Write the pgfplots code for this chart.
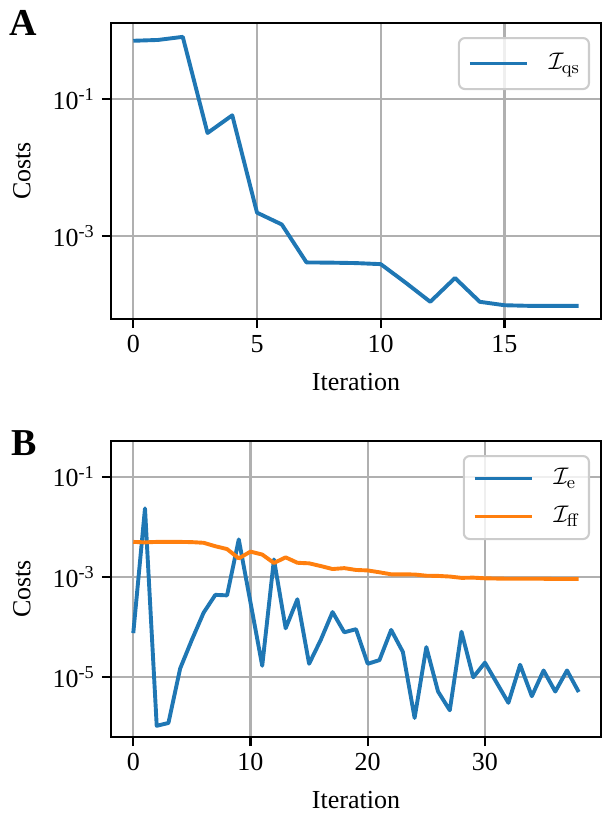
\documentclass[border=0pt]{standalone}
\usepackage[no-math]{fontspec}
\setmainfont{Liberation Serif}
\usepackage{pgfplots}
\pgfplotsset{compat=1.18}
\definecolor{mplblue}{HTML}{1F77B4}
\definecolor{mplorange}{HTML}{FF7F0E}
\definecolor{mplgrid}{HTML}{B0B0B0}
\definecolor{mpllegend}{HTML}{CCCCCC}

\pgfplotsset{
  costs/.style={
    scale only axis, width=245pt, height=148pt,
    anchor=south west,
    yminorticks=false,
    axis line style={line width=1.04pt},
    every tick/.style={line width=1.04pt, black},
    major tick length=4.55pt,
    tick align=outside,
    xtick pos=left, ytick pos=left,
    grid=major, major grid style={line width=1.04pt, mplgrid},
    xlabel={Iteration}, ylabel={Costs},
    xlabel style={at={([yshift=-31.5pt]axis description cs:0.5,0)}, anchor=center},
    ylabel style={at={([xshift=-44.5pt]axis description cs:0,0.5)}, anchor=center},
    legend cell align=left,
    legend style={at={(1,1)}, anchor=north east, xshift=-5.5pt, yshift=-7pt,
      draw=mpllegend, line width=1.04pt, rounded corners=3pt,
      fill=white, fill opacity=0.8, text opacity=1,
      inner xsep=4.5pt, inner ysep=4.75pt, row sep=3pt,
      /tikz/every odd column/.append style={column sep=10pt},
      nodes={text height=10pt, text depth=4pt, inner ysep=1pt, inner xsep=0pt}},
    legend image code/.code={%
      \draw[##1, line width=1.95pt] (0pt,0pt) -- (28.5pt,0pt);},
    every axis plot/.append style={line width=1.95pt, line join=round},
  }
}

\begin{document}
\begin{tikzpicture}[font=\fontsize{13}{15.6}\selectfont]

% panel A
\begin{axis}[costs, ymode=log,
  at={(0,0)},
  xmin=-0.9, xmax=18.9,
  ymin=6.17e-5, ymax=1.29,
  xtick={0,5,10,15},
  ytick={1e-1,1e-3},
  yticklabels={10\textsuperscript{-1},10\textsuperscript{-3}},
  xticklabel style={/pgf/number format/assume math mode=true},
]
\addplot[mplblue] coordinates {
  (0,0.71) (1,0.73) (2,0.81) (3,0.032) (4,0.058) (5,0.0022) (6,0.00148)
  (7,0.000413) (8,0.00041) (9,0.000404) (10,0.00039) (11,0.00021)
  (12,0.00011) (13,0.000245) (14,0.00011) (15,0.000098) (16,0.000096)
  (17,0.000096) (18,0.000096)
};
\addlegendentry{$\mathcal{I}_{\mathrm{qs}}$}
\end{axis}

% panel B
\begin{axis}[costs, ymode=log,
  at={(0,-209pt)},
  xmin=-1.9, xmax=39.9,
  ymin=6.46e-7, ymax=0.513,
  xtick={0,10,20,30},
  ytick={1e-1,1e-3,1e-5},
  yticklabels={10\textsuperscript{-1},10\textsuperscript{-3},10\textsuperscript{-5}},
  xticklabel style={/pgf/number format/assume math mode=true},
  legend style={inner ysep=3.25pt},
]
\addplot[mplblue] coordinates {
  (0,7.6e-5) (1,0.0233) (2,1.08e-6) (3,1.23e-6) (4,1.5e-5) (5,5.6e-5)
  (6,1.94e-4) (7,4.4e-4) (8,4.3e-4) (9,0.0056) (10,3.1e-4) (11,1.7e-5)
  (12,2.24e-3) (13,9.5e-5) (14,3.6e-4) (15,1.86e-5) (16,5.6e-5) (17,2.0e-4)
  (18,7.9e-5) (19,9.1e-5) (20,1.86e-5) (21,2.2e-5) (22,8.8e-5) (23,3.2e-5)
  (24,1.55e-6) (25,4.0e-5) (26,5.2e-6) (27,2.2e-6) (28,8.1e-5) (29,1.0e-5)
  (30,1.96e-5) (31,7.8e-6) (32,3.1e-6) (33,1.78e-5) (34,4.2e-6) (35,1.37e-5)
  (36,5.2e-6) (37,1.37e-5) (38,5.1e-6)
};
\addlegendentry{$\mathcal{I}_{\mathrm{e}}$}
\addplot[mplorange] coordinates {
  (0,5.0e-3) (1,4.9e-3) (2,5.0e-3) (3,5.0e-3) (4,5.0e-3) (5,4.95e-3)
  (6,4.8e-3) (7,4.1e-3) (8,3.6e-3) (9,2.35e-3) (10,3.2e-3) (11,2.8e-3)
  (12,1.9e-3) (13,2.46e-3) (14,1.92e-3) (15,1.87e-3) (16,1.65e-3) (17,1.44e-3)
  (18,1.5e-3) (19,1.38e-3) (20,1.35e-3) (21,1.24e-3) (22,1.13e-3) (23,1.13e-3)
  (24,1.12e-3) (25,1.06e-3) (26,1.05e-3) (27,1.02e-3) (28,9.6e-4) (29,9.7e-4)
  (30,9.4e-4) (31,9.3e-4) (32,9.2e-4) (33,9.2e-4) (34,9.2e-4) (35,9.2e-4)
  (36,9.1e-4) (37,9.1e-4) (38,9.1e-4)
};
\addlegendentry{$\mathcal{I}_{\mathrm{ff}}$}
\end{axis}

\node[font=\fontsize{19}{22}\selectfont\bfseries] at (-43.75pt,148.25pt) {A};
\node[font=\fontsize{19}{22}\selectfont\bfseries] at (-43.25pt,-62.25pt) {B};

\pgfresetboundingbox
\path[use as bounding box] (-55.5pt,-247pt) rectangle (246pt,159.5pt);
\end{tikzpicture}
\end{document}
